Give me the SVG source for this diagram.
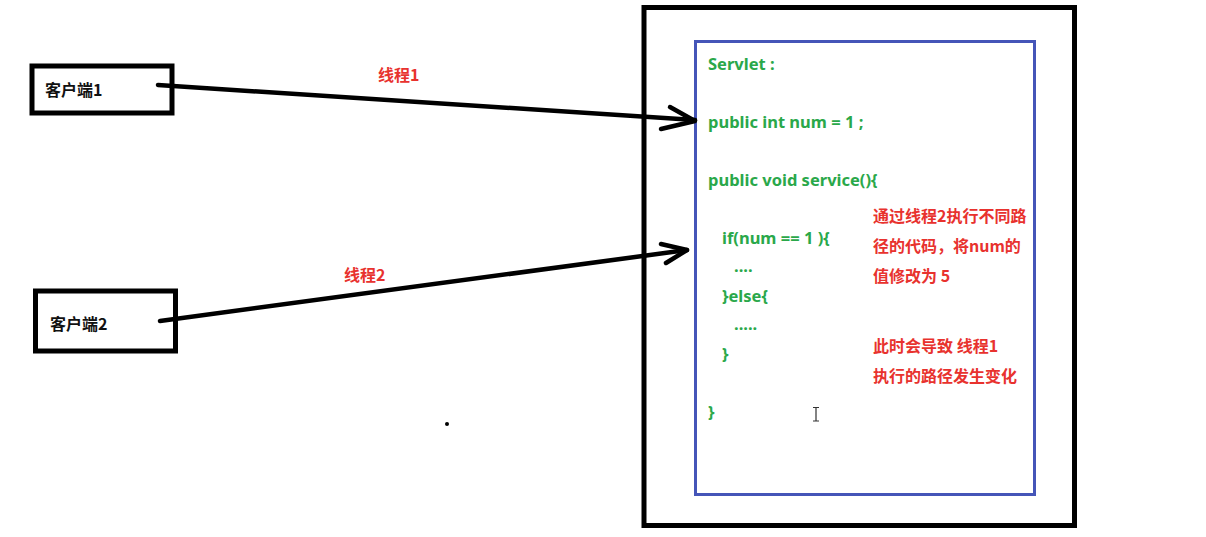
<svg xmlns="http://www.w3.org/2000/svg" width="1206" height="537" viewBox="0 0 1206 537">
  <style>
    .box { fill: #ffffff; stroke: #000000; stroke-width: 5; }
    .inner { fill: none; stroke: #4555b8; stroke-width: 3; }
    .label { font-family: "Noto Sans CJK SC", "Noto Sans", sans-serif; font-weight: bold; font-size: 16px; fill: #111111; }
    .code { font-family: "Noto Sans", "Noto Sans CJK SC", sans-serif; font-weight: bold; font-size: 16.5px; fill: #2aa84a; }
    .note { font-family: "Noto Sans CJK SC", "Noto Sans", sans-serif; font-weight: bold; font-size: 16px; fill: #e8322e; }
    .wire { fill: none; stroke: #000000; stroke-width: 4.5; stroke-linecap: round; stroke-linejoin: round; }
  </style>

  <rect width="1206" height="537" fill="#ffffff"/>

  <!-- server container -->
  <g id="server">
    <rect class="box" x="644" y="7.5" width="430.5" height="518"/>
    <rect class="inner" x="695.5" y="41.5" width="339" height="453"/>
    <text class="code" x="708" y="70">Servlet :</text>
    <text class="code" x="708" y="128">public int num = 1 ;</text>
    <text class="code" x="708" y="186">public void service(){</text>
    <text class="code" x="722" y="244">if(num == 1 ){</text>
    <text class="code" x="734" y="272">....</text>
    <text class="code" x="722" y="302">}else{</text>
    <text class="code" x="734" y="330">.....</text>
    <text class="code" x="722" y="360">}</text>
    <text class="code" x="708" y="418">}</text>
    <text class="note" x="873" y="222">通过线程2执行不同路</text>
    <text class="note" x="873" y="252">径的代码，将num的</text>
    <text class="note" x="873" y="282">值修改为 5</text>
    <text class="note" x="873" y="352">此时会导致 线程1</text>
    <text class="note" x="873" y="382">执行的路径发生变化</text>
  </g>

  <g id="client1">
    <rect class="box" x="32" y="66" width="140" height="47"/>
    <text class="label" x="45" y="96">客户端1</text>
  </g>

  <g id="client2">
    <rect class="box" x="35.5" y="291" width="140" height="60"/>
    <text class="label" x="50" y="330">客户端2</text>
  </g>

  <!-- request connectors -->
  <g id="connectors">
    <path class="wire" d="M158 85 L695 120"/>
    <path class="wire" d="M670 107 L695 121 L661 129"/>
    <path class="wire" d="M160 321 L687 250"/>
    <path class="wire" d="M661 244 L687 250 L666 263"/>
    <text class="note" x="378" y="81" font-size="15">线程1</text>
    <text class="note" x="344" y="281" font-size="15">线程2</text>
  </g>

  <!-- stray marks -->
  <circle cx="447" cy="424" r="2" fill="#000000"/>
  <path d="M813 407.5 H819 M816 407.5 V421 M813 421 H819" stroke="#333333" stroke-width="1.2" fill="none"/>
</svg>
